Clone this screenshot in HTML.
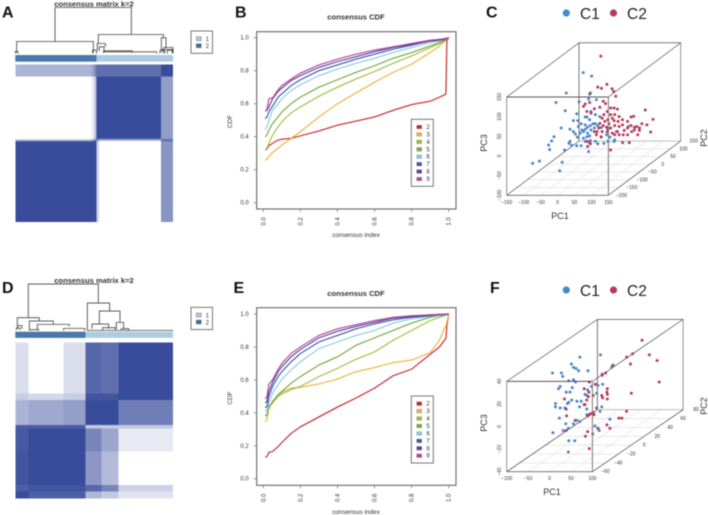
<!DOCTYPE html>
<html lang="en">
<head>
<meta charset="utf-8">
<title>Consensus clustering figure</title>
<style>
html,body{margin:0;padding:0;background:#fff;width:708px;height:515px;overflow:hidden}
svg{display:block;font-family:"Liberation Sans",sans-serif;filter:blur(0.4px)}
text{fill:#333}
.letter{font-size:16px;font-weight:700;fill:#111}
.title{font-size:7.6px;font-weight:700;fill:#333;text-anchor:middle}
.tick{font-size:6px;text-anchor:middle;fill:#333}
.lab{font-size:6.4px;text-anchor:middle;fill:#333}
.t3{font-size:5px;text-anchor:middle;fill:#333}
.l3{font-size:9px;text-anchor:middle;fill:#333}
.big{font-size:15.5px;fill:#222}
</style>
</head>
<body>
<svg id="fig" xmlns="http://www.w3.org/2000/svg" width="708" height="515" viewBox="0 0 708 515">
<text class="letter" x="2" y="17.5">A</text>
<text class="letter" x="235" y="17.5">B</text>
<text class="letter" x="486" y="17.5">C</text>
<text class="letter" x="2" y="293">D</text>
<text class="letter" x="233.5" y="293">E</text>
<text class="letter" x="490" y="293">F</text>
<text class="title" x="94" y="6.5">consensus matrix k=2</text>
<text class="title" x="94" y="283">consensus matrix k=2</text>
<text class="title" x="356" y="19.5">consensus CDF</text>
<text class="title" x="356" y="296">consensus CDF</text>
<text class="lab" x="356" y="237">consensus index</text>
<text class="lab" x="356" y="514">consensus index</text>
<text class="lab" transform="translate(232,121.5) rotate(-90)">CDF</text>
<text class="lab" transform="translate(232,398) rotate(-90)">CDF</text>
<text class="big" x="580" y="19">C1</text>
<text class="big" x="627" y="19">C2</text>
<text class="big" x="580" y="296">C1</text>
<text class="big" x="627" y="296">C2</text>
<text class="l3" x="560" y="219">PC1</text>
<text class="l3" transform="translate(487,143) rotate(-90)">PC3</text>
<text class="l3" transform="translate(707,138) rotate(-90)">PC2</text>
<text class="l3" x="552" y="495">PC1</text>
<text class="l3" transform="translate(487,423) rotate(-90)">PC3</text>
<text class="l3" transform="translate(707,406) rotate(-90)">PC2</text>
</svg>
<script>
// ---------- CDF data ----------
const cdfIndex = [0.01,0.02,0.03,0.05,0.08,0.1,0.15,0.2,0.3,0.4,0.5,0.6,0.7,0.8,0.9,0.95,0.98,0.985,0.99,1];
const kLabels = ['2','3','4','5','6','7','8','9'];
const kColors = ['#c8242a','#edb13c','#a3bd3f','#74ab44','#8ccbde','#3b58a6','#5a3f99','#b5439c'];
const cdfTicks = [0,0.2,0.4,0.6,0.8,1];
const cdfTop = [
 [.32,.325,.345,.36,.38,.385,.39,.405,.435,.47,.495,.52,.56,.595,.615,.64,.655,.665,.98,1],
 [.255,.265,.28,.305,.33,.35,.39,.43,.52,.6,.665,.73,.79,.84,.91,.95,.98,.985,.99,1],
 [.32,.33,.36,.41,.46,.49,.545,.58,.645,.7,.75,.795,.845,.89,.94,.965,.98,.985,.99,1],
 [.4,.41,.44,.48,.52,.55,.6,.64,.7,.745,.79,.83,.875,.91,.95,.97,.985,.99,.993,1],
 [.445,.46,.5,.56,.6,.63,.68,.715,.77,.81,.845,.875,.91,.94,.97,.98,.99,.993,.995,1],
 [.51,.52,.55,.585,.64,.66,.71,.745,.8,.835,.87,.9,.93,.955,.98,.985,.99,.993,.995,1],
 [.555,.56,.58,.63,.675,.695,.74,.77,.82,.855,.885,.915,.94,.96,.98,.99,.993,.995,.997,1],
 [.555,.565,.63,.635,.685,.71,.75,.785,.835,.87,.9,.925,.945,.965,.985,.99,.995,.997,.998,1]
];
const cdfBottom = [
 [.13,.135,.16,.165,.195,.22,.275,.315,.375,.435,.49,.55,.625,.665,.755,.8,.845,.85,.93,1],
 [.345,.36,.43,.46,.505,.525,.55,.555,.575,.605,.65,.675,.705,.72,.765,.84,.92,.925,.95,1],
 [.38,.385,.44,.46,.5,.515,.54,.56,.62,.67,.725,.77,.84,.9,.96,.98,.99,.993,.995,1],
 [.38,.39,.43,.47,.51,.53,.58,.62,.69,.74,.81,.855,.9,.945,.98,.99,.993,.995,.997,1],
 [.405,.42,.46,.52,.57,.605,.66,.71,.79,.83,.87,.9,.945,.97,.985,.99,.995,.997,.998,1],
 [.43,.44,.5,.56,.62,.65,.71,.76,.83,.87,.91,.94,.965,.98,.99,.995,.997,.998,.999,1],
 [.46,.47,.53,.585,.65,.68,.74,.785,.855,.895,.925,.95,.975,.985,.995,.998,.999,.999,1,1],
 [.485,.5,.575,.6,.665,.7,.76,.8,.87,.91,.935,.96,.98,.99,.995,.998,.999,1,1,1]
];

// ---------- heatmap data (cluster sizes, consensus between clusters) ----------
const rowSizesA = [37,185,5,5,241];
const colSizesA = [229,5,5,5,7,186,36];
const consensusA = [
 [.42,.5,.6,.7,.8,.8,1],
 [0,.1,.2,.4,1,1,.55],
 [.1,.25,.4,.6,.8,.7,.7],
 [.6,.7,.8,.9,.5,.2,.8],
 [1,1,1,1,.25,0,.6]
];
const rowSizesD = [153,20,75,10,70,100,20,20];
const colSizesD = [39,105,67,48,50,164];
const consensusD = [
 [.18,0,.18,.85,.8,1],
 [.28,.22,.28,.95,.95,1],
 [.42,.48,.55,1,1,.72],
 [.9,.9,.9,.3,.3,.3],
 [.93,1,1,.68,.5,.12],
 [.95,1,1,.58,.38,0],
 [.9,.95,.95,.85,.68,.25],
 [1,.9,.9,.4,.3,.15]
];
const annotA = [244,229];
const annotD = [211,262];
const annotColors = ['#4a78ab','#afcbe1'];
const legendClasses = ['1','2'];
const legendClassColors = ['#afcbe1','#3e6da6'];

// ---------- dendrogram merges: left leaf, right leaf, height, left child height, right child height ----------
const mergesA = [
 [119,348,138,36,57],[4,234,36,2,2],[249,444,57,30,47],[246,270,30,10,20],[438,452,47,10,15],
 [265,424,5,2,0],[265,350,8,2,2],[440,470,12,3,2],[445,473,18,2,2],[232,244,10,0,0],[0,8,6,0,0],
 [252,266,20,8,6],[456,473,10,0,0],[434,448,10,0,0]
];
const mergesD = [
 [39,249,140,39,83],[6,72,39,15,29],[6,20,15,6,6],[42,114,29,2,19],[66,162,19,3,13],[145,208,7,0,0],
 [216,283,83,1,59],[252,314,59,20,25],[230,280,20,6,6],[303,325,25,5,5],[216,473,1,0,0],[262,300,9,2,2],
 [318,340,6,1,1],[3,14,8,2,2],[44,70,3,0,0]
];

// ---------- scatter data: [PC1, PC3], PC2 cannot be read from the flat picture so a mid depth plane is assumed ----------
const pc1TicksC = [-150,-100,-50,0,50,100,150];
const pc2TicksC = [-200,-150,-100,-50,0,50,100,150];
const pc3TicksC = [-100,-50,0,50,100,150];
const pc2PlaneC = -25;
const c1PointsC = [[-31,143],[-6,134],[-81,91],[-12,88],[-43,69],[8,74],[-15,76],[-111,67],[-84,46],[-50,38],[-8,44],[-20,30],[-60,21],[-47,21],[-25,30],[5,36],[18,31],[-12,23],[-96,2],[-70,-1],[-60,-7],[-54,-13],[-45,6],[-37,13],[-25,10],[-18,4],[-10,8],[-2,13],[5,13],[-8,-3],[2,2],[12,8],[22,3],[-18,-11],[-30,-7],[-40,-11],[-48,-21],[-70,-32],[-73,-37],[-65,-42],[-50,-43],[-37,-43],[-117,-20],[-124,-31],[-133,-41],[-130,-53],[-86,-54],[-15,-58],[-180,-88],[-160,-82],[-93,-85],[-100,-107],[-25,-32],[-10,-30],[5,-32],[12,-38],[30,-37],[42,-32],[60,-32],[22,-21],[38,-15],[48,-21],[102,6],[62,-28],[42,-1],[67,-7],[-20,-20],[-30,-24],[-12,-18],[-25,-1],[-35,-3]];
const c2PointsC = [[21,185],[12,106],[23,103],[39,113],[54,102],[59,95],[65,83],[-10,91],[28,70],[35,64],[-25,63],[-30,57],[-12,67],[18,55],[2,51],[-8,40],[-20,44],[50,53],[60,53],[70,50],[40,44],[30,36],[25,27],[50,36],[62,36],[75,31],[55,27],[42,23],[33,19],[45,13],[60,21],[72,19],[85,23],[100,19],[110,30],[118,32],[85,10],[75,6],[62,8],[50,2],[38,4],[28,8],[18,14],[10,-7],[25,-7],[40,-7],[55,-11],[70,-7],[62,-15],[75,-15],[87,-15],[100,-15],[112,-7],[120,4],[127,6],[135,2],[142,13],[157,10],[152,48],[175,24],[168,-8],[135,-4],[130,-15],[120,-3],[110,8],[100,2],[90,-4],[-18,-45],[-20,-32],[-12,-35],[50,-54],[85,-35],[105,-35],[22,-20],[8,-15],[2,-7],[15,2],[-10,-38]];
const pc1TicksF = [-100,-50,0,50,100];
const pc2TicksF = [-60,-40,-20,0,20,40,60,80];
const pc3TicksF = [-40,-20,0,20,40];
const pc2PlaneF = 10;
const c1PointsF = [[-35,34],[13,36],[-55,28],[-50,25],[-44,24],[-38,22],[-16,22],[-99,20],[-78,20],[-75,17],[17,19],[39,25],[-61,13],[-50,14],[-45,12],[-81,8],[-85,6],[-53,7],[-67,3],[-58,3],[-17,5],[-8,8],[18,10],[7,9],[-23,1],[-19,0],[4,2],[-54,-4],[-61,-6],[-64,-7],[-42,-5],[-32,-5],[-92,-7],[-92,-10],[-81,-11],[-70,-11],[-36,-10],[-19,-12],[16,-10],[12,-14],[-83,-20],[-42,-22],[-35,-23],[-19,-17],[-68,-25],[-62,-29],[-98,-33],[-74,-31],[-50,-25],[35,-21],[0,-27],[10,-31],[-5,-34],[-61,-40],[-47,-40],[-62,-50]];
const c2PointsF = [[110,49],[74,34],[88,37],[127,36],[145,31],[83,28],[42,27],[150,12],[85,2],[25,20],[17,18],[-13,12],[1,10],[-25,6],[-14,3],[29,6],[28,3],[29,1],[16,0],[18,-2],[29,-3],[-4,0],[-15,-1],[-19,-4],[-23,-8],[-71,-3],[-66,-18],[-67,-12],[-25,-8],[-4,-15],[-10,-16],[-13,-17],[-17,-18],[-2,-17],[-46,-22],[-67,-31],[-17,-32],[-22,-36],[7,-29],[-13,-47],[28,-26],[35,-29],[56,-20],[63,-20],[74,-14],[4,-11]];
const clusterColors = ['#4a86c8','#b83b5c'];

// ---------- drawing ----------
const NS = 'http://www.w3.org/2000/svg';
const fig = document.getElementById('fig');
function mk(tag, parent, attrs){
  const el = document.createElementNS(NS, tag);
  for (const k in attrs) el.setAttribute(k, attrs[k]);
  parent.appendChild(el);
  return el;
}
function mkGroup(){ return mk('g', fig, {}); }
function fmtTick(v){ return String(v).replace('-', '\u2212'); }

function drawHeatmap(rows, cols, matrix, x0, y0, w, h){
  const g = mkGroup();
  
  
  const rowTotal = rows.reduce((a,b)=>a+b,0), colTotal = cols.reduce((a,b)=>a+b,0);
  const shade = v => 'rgb(' + [255-v*(255-56), 255-v*(255-76), 255-v*(255-155)].map(Math.round).join(',') + ')';
  let ry = 0;
  rows.forEach((rs, i) => {
    let cx = 0;
    cols.forEach((cs, j) => {
      const cell = mk('rect', g, {x:x0+cx/colTotal*w, y:y0+ry/rowTotal*h, width:cs/colTotal*w, height:rs/rowTotal*h, fill:shade(matrix[i][j]), 'shape-rendering':'crispEdges'});
      
      
      cx += cs;
    });
    ry += rs;
  });
}
function drawAnnot(sizes, x0, y0, w, h){
  const g = mkGroup();
  
  
  const total = sizes.reduce((a,b)=>a+b,0);
  let c = 0;
  sizes.forEach((s, i) => {
    const seg = mk('rect', g, {x:x0+c/total*w, y:y0, width:s/total*w, height:h, fill:annotColors[i]});
    
    
    c += s;
  });
}
function drawDendro(merges, x0, yBase, w, leafTotal, unit){
  const g = mkGroup();
  
  
  const sx = v => x0 + v/leafTotal*w;
  const sy = v => yBase - v*unit;
  merges.forEach(m => {
    const d = 'M'+sx(m[0])+' '+sy(m[3])+'V'+sy(m[2])+'H'+sx(m[1])+'V'+sy(m[4]);
    const p = mk('path', g, {d:d, fill:'none', stroke:'#444', 'stroke-width':0.85});
    
    
  });
}
function drawSmallLegend(x, y){
  const g = mkGroup();
  
  
  const box = mk('rect', g, {x:x, y:y, width:21.5, height:22.3, fill:'#fff', stroke:'#555', 'stroke-width':0.8});
  
  
  legendClasses.forEach((c, i) => {
    const sw = mk('rect', g, {x:x+5.3, y:y+5.7+i*7, width:5, height:4, fill:legendClassColors[i], stroke:'#666', 'stroke-width':0.4});
    
    
    const t = mk('text', g, {x:x+16.3, y:y+10+i*7, class:'tick'});
    t.textContent = c;
    
    
  });
}
function drawCDF(series, yBoxTop, yBoxBottom, yOne, yZero, legendTop){
  const g = mkGroup();
  
  
  const x0 = 263.3, x1 = 448.7;
  const sx = v => x0 + v*(x1-x0);
  const sy = v => yZero + v*(yOne-yZero);
  const box = mk('rect', g, {x:256.7, y:yBoxTop, width:199.3, height:yBoxBottom-yBoxTop, fill:'#fff', stroke:'#666', 'stroke-width':1.1});
  
  
  cdfTicks.forEach(v => {
    const tx = mk('line', g, {x1:sx(v), x2:sx(v), y1:yBoxBottom, y2:yBoxBottom+3, stroke:'#666', 'stroke-width':0.7});
    
    
    const ty = mk('line', g, {x1:256.7, x2:253.7, y1:sy(v), y2:sy(v), stroke:'#666', 'stroke-width':0.7});
    
    
    const lx = mk('text', g, {class:'tick', transform:'translate('+(sx(v)+2)+','+(yBoxBottom+12.5)+') rotate(-90)'});
    lx.textContent = v.toFixed(1);
    
    
    const ly = mk('text', g, {class:'tick', x:244.5, y:sy(v)+2});
    ly.textContent = v.toFixed(1);
    
    
  });
  series.forEach((vals, i) => {
    const pts = vals.map((v, j) => sx(cdfIndex[j]).toFixed(2)+','+sy(v).toFixed(2)).join(' ');
    const line = mk('polyline', g, {points:pts, fill:'none', stroke:kColors[i], 'stroke-width':1.15});
    
    
  });
  const lg = mk('g', g, {});
  
  
  const lb = mk('rect', lg, {x:411.3, y:legendTop, width:22, height:67, fill:'#fff', stroke:'#555', 'stroke-width':0.8});
  
  
  kLabels.forEach((k, i) => {
    const yy = legendTop + 7.7 + i*7.43;
    const sw = mk('rect', lg, {x:416.7, y:yy-1.8, width:5, height:3.6, fill:kColors[i], stroke:'#777', 'stroke-width':0.3});
    
    
    const t = mk('text', lg, {class:'tick', x:428, y:yy+2});
    t.textContent = k;
    
    
  });
}
function drawScatter(cfg){
  const g = mkGroup();
  
  
  const fx = v => (v-cfg.t1[0])/(cfg.t1[cfg.t1.length-1]-cfg.t1[0]);
  const fd = v => (v-cfg.t2[0])/(cfg.t2[cfg.t2.length-1]-cfg.t2[0]);
  const fz = v => (v-cfg.t3[0])/(cfg.t3[cfg.t3.length-1]-cfg.t3[0]);
  const px = (a,b) => cfg.left + fx(a)*cfg.w + fd(b)*cfg.dx;
  const py = (b,c) => cfg.bottom - fz(c)*cfg.h + fd(b)*cfg.dy;
  const seg = (name, x1, y1, x2, y2, col, wd) => {
    const l = mk('line', g, {x1:x1, y1:y1, x2:x2, y2:y2, stroke:col, 'stroke-width':wd});
    
    
  };
  const a0 = cfg.t1[0], a1 = cfg.t1[cfg.t1.length-1], b0 = cfg.t2[0], b1 = cfg.t2[cfg.t2.length-1], c0 = cfg.t3[0], c1 = cfg.t3[cfg.t3.length-1];
  cfg.t1.forEach(v => seg('floor-grid-line', px(v,b0), py(b0,c0), px(v,b1), py(b1,c0), '#d4d4d4', 0.5));
  cfg.t2.forEach(v => seg('floor-grid-line', px(a0,v), py(v,c0), px(a1,v), py(v,c0), '#d4d4d4', 0.5));
  seg('box-edge', px(a0,b1), py(b1,c0), px(a1,b1), py(b1,c0), '#999', 0.6);
  seg('box-edge', px(a0,b1), py(b1,c0), px(a0,b1), py(b1,c1), '#666', 0.9);
  seg('box-edge', px(a1,b1), py(b1,c0), px(a1,b1), py(b1,c1), '#666', 0.7);
  seg('box-edge', px(a0,b1), py(b1,c1), px(a1,b1), py(b1,c1), '#555', 0.75);
  seg('box-edge', px(a0,b0), py(b0,c1), px(a0,b1), py(b1,c1), '#444', 0.65);
  seg('box-edge', px(a1,b0), py(b0,c1), px(a1,b1), py(b1,c1), '#444', 0.65);
  seg('box-edge', px(a0,b0), py(b0,c0), px(a0,b1), py(b1,c0), '#444', 0.65);
  seg('box-edge', px(a1,b0), py(b0,c0), px(a1,b1), py(b1,c0), '#444', 0.65);
  const groups = [cfg.c1, cfg.c2];
  groups.forEach((pts, gi) => {
    pts.forEach(p => {
      const c = mk('circle', g, {cx:px(p[0],cfg.plane).toFixed(2), cy:py(cfg.plane,p[1]).toFixed(2), r:1.5, fill:clusterColors[gi]});
      
      
    });
  });
  seg('box-edge', px(a0,b0), py(b0,c0), px(a1,b0), py(b0,c0), '#666', 0.9);
  seg('box-edge', px(a0,b0), py(b0,c1), px(a1,b0), py(b0,c1), '#555', 1);
  seg('box-edge', px(a0,b0), py(b0,c0), px(a0,b0), py(b0,c1), '#777', 0.8);
  seg('box-edge', px(a1,b0), py(b0,c0), px(a1,b0), py(b0,c1), '#777', 1);
  cfg.t1.forEach(v => {
    const t = mk('text', g, {class:'t3', x:px(v,b0), y:cfg.bottom+8.5});
    t.textContent = fmtTick(v);
    
    
  });
  cfg.t3.forEach(v => {
    const t = mk('text', g, {class:'t3', transform:'translate('+(cfg.left-5.5)+','+py(b0,v)+') rotate(-90)'});
    t.textContent = fmtTick(v);
    
    
  });
  cfg.t2.forEach(v => {
    const t = mk('text', g, {class:'t3', x:px(a1,v)+13, y:py(v,c0)+1.5});
    t.textContent = fmtTick(v);
    
    
  });
  const lg = mk('g', g, {});
  
  
  clusterColors.forEach((col, i) => {
    const dot = mk('circle', lg, {cx:566.3+i*47.2, cy:cfg.legendY, r:3.6, fill:col});
    
    
  });
}

drawDendro(mergesA, 15.3, 53.5, 157.7, 473, 1/3);
drawAnnot(annotA, 15.3, 55, 157.7, 6.7);
drawHeatmap(rowSizesA, colSizesA, consensusA, 15.3, 64.3, 157.7, 157.7);
drawSmallLegend(191, 31);

drawDendro(mergesD, 15.3, 330.7, 157.7, 473, 1/3);
drawAnnot(annotD, 15.3, 331.7, 157.7, 6.2);
drawHeatmap(rowSizesD, colSizesD, consensusD, 15.3, 342.3, 157.7, 156);
drawSmallLegend(191, 307.3);

drawCDF(cdfTop, 31.7, 209, 37.7, 202.7, 119.3);
drawCDF(cdfBottom, 307.7, 485.3, 314, 478.7, 396);

drawScatter({t1:pc1TicksC, t2:pc2TicksC, t3:pc3TicksC, plane:pc2PlaneC, c1:c1PointsC, c2:c2PointsC, left:506.7, bottom:195.3, w:101.7, h:98.3, dx:72.3, dy:-54.3, legendY:13});
drawScatter({t1:pc1TicksF, t2:pc2TicksF, t3:pc3TicksF, plane:pc2PlaneF, c1:c1PointsF, c2:c2PointsF, left:506.7, bottom:471.7, w:85.7, h:90.3, dx:90.7, dy:-62, legendY:290});
</script>
</body>
</html>
